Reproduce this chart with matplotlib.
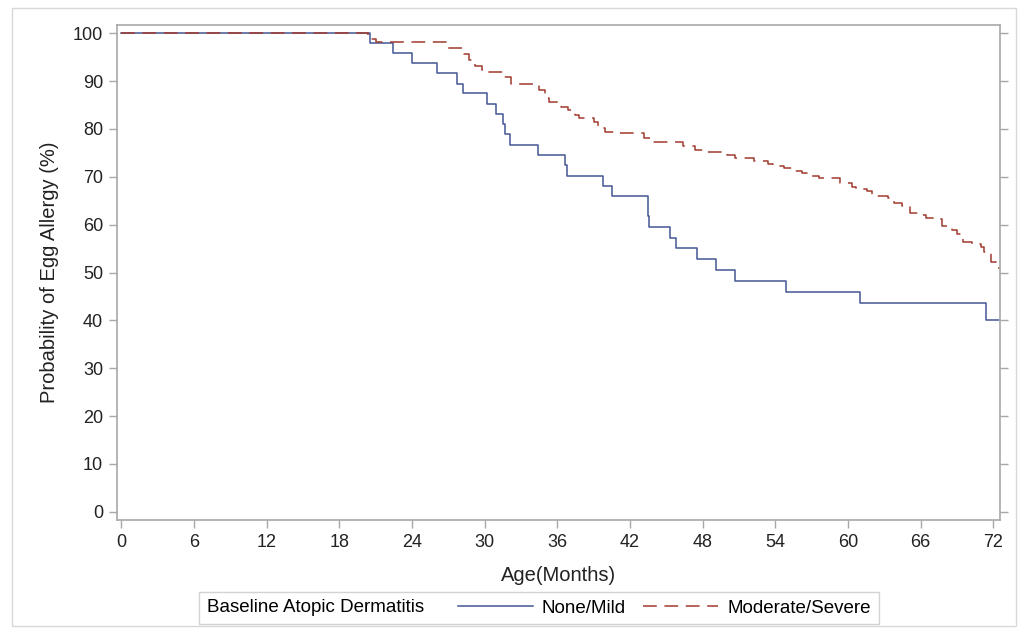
import matplotlib
matplotlib.use("Agg")
import matplotlib.pyplot as plt
from matplotlib.patches import Rectangle
from matplotlib.offsetbox import HPacker

plt.rcParams['font.family'] = ['Liberation Sans', 'DejaVu Sans']

# ---- data ----
mild_times = [0, 20.5, 22.4, 24.0, 26.1, 27.7, 28.2, 30.2, 30.9, 31.5, 31.7, 32.1,
              34.4, 36.6, 36.8, 39.8, 40.5, 43.5, 43.6, 45.3, 45.8, 47.5, 49.1,
              50.7, 54.9, 61.0, 71.4, 72.5]
mild_vals = [100, 97.9, 95.8, 93.7, 91.6, 89.4, 87.5, 85.2, 83.1, 81.0, 78.9, 76.6,
             74.5, 72.4, 70.1, 68.1, 66.0, 61.7, 59.5, 57.2, 55.1, 52.8, 50.5,
             48.2, 45.9, 43.6, 40.1, 40.1]

severe_times = [0, 20.4, 20.6, 21.0, 26.9, 28.3, 28.7, 29.2, 29.8, 30.2, 31.6, 32.2,
                34.5, 35.0, 35.3, 36.3, 36.9, 37.5, 37.8, 39.0, 39.4, 39.9, 40.8,
                43.2, 44.0, 46.4, 47.4, 48.0, 50.0, 50.7, 52.2, 53.4, 53.8,
                54.7, 55.5, 56.2, 56.9, 57.6, 59.3, 60.3, 60.7, 61.6, 62.0, 63.3,
                63.8, 64.5, 65.1, 65.9, 66.4, 67.2, 67.8, 68.6, 69.0, 69.5, 70.2,
                71.0, 71.2, 71.8, 72.2, 72.5]
severe_vals = [100, 99.3, 98.7, 98.1, 96.9, 95.6, 94.4, 93.2, 92.4, 91.8, 90.8, 89.4,
               88.1, 86.4, 85.6, 84.6, 83.9, 82.9, 82.3, 81.4, 80.2, 79.4, 79.1,
               78.0, 77.2, 76.4, 75.6, 75.2, 74.5, 73.9, 73.3, 72.7, 72.2,
               71.8, 71.2, 70.8, 70.2, 69.7, 68.7, 67.9, 67.4, 67.0, 66.0, 65.6,
               64.5, 63.9, 62.4, 62.0, 61.4, 61.2, 59.7, 58.9, 58.0, 56.4, 56.0,
               55.3, 54.3, 52.2, 51.8, 50.7]

x_ticks = [0, 6, 12, 18, 24, 30, 36, 42, 48, 54, 60, 66, 72]
y_ticks = [0, 10, 20, 30, 40, 50, 60, 70, 80, 90, 100]
labels = ['None/Mild', 'Moderate/Severe']
legend_title = 'Baseline Atopic Dermatitis'
x_label = 'Age(Months)'
y_label = 'Probability of Egg Allergy (%)'

blue = '#445694'
red = '#A23A2E'
spine_c = '#a8a8a8'
text_c = '#222222'

fig = plt.figure(figsize=(10.24, 6.33), dpi=100)
ax = fig.add_axes([117 / 1024, 1 - 520 / 633, (1000 - 117) / 1024, (520 - 25) / 633])

l1, = ax.step(mild_times, mild_vals, where='post', color=blue, lw=1.1, label=labels[0])
l2, = ax.step(severe_times, severe_vals, where='post', color=red, lw=1.1,
              dashes=(9, 5), label=labels[1])

ax.set_xlim(-0.35, 72.55)
ax.set_ylim(-1.7, 101.7)
ax.set_xticks(x_ticks)
ax.set_yticks(y_ticks)
ax.tick_params(axis='both', direction='out', length=6, width=1, color=spine_c,
               labelsize=13, labelcolor=text_c, pad=4)
ax.tick_params(axis='y', right=True, labelright=False)
for s in ax.spines.values():
    s.set_color(spine_c)
    s.set_linewidth(1.2)

ax.set_xlabel(x_label, fontsize=14.5, color=text_c, labelpad=11)
ax.set_ylabel(y_label, fontsize=14.5, color=text_c, labelpad=10)

leg = fig.legend(handles=[l1, l2], labels=labels, title=legend_title, ncol=2,
                 loc='center', bbox_to_anchor=(539 / 1024, 1 - 608 / 633),
                 fontsize=13.5, title_fontsize=13.5, frameon=True, fancybox=False,
                 edgecolor='#c8c8c8', handlelength=4.0, handletextpad=0.5,
                 columnspacing=0.9, borderpad=0.12)
leg.get_frame().set_linewidth(1.0)
vbox = leg._legend_box
vbox._children = [HPacker(children=[leg._legend_title_box, leg._legend_handle_box],
                          align='center', pad=4, sep=24)]

fig.patches.append(Rectangle((12 / 1024, 1 - 626 / 633), (1016 - 12) / 1024,
                             (626 - 8) / 633, transform=fig.transFigure,
                             fill=False, edgecolor='#d8d8d8', lw=1.0))

fig.savefig('out.png', dpi=100)
